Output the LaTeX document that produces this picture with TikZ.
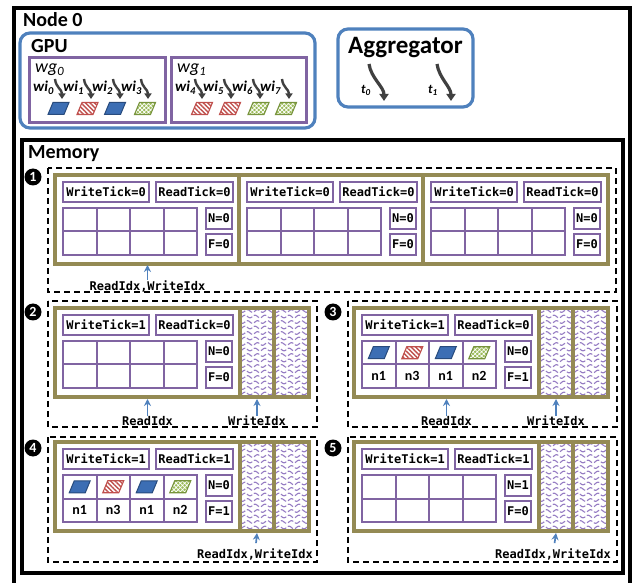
\documentclass[tikz,border=0pt]{standalone}
\usepackage{fontspec}
\setmainfont{Carlito}
\setmonofont{DejaVu Sans Mono}
\usetikzlibrary{arrows.meta,patterns.meta}
\definecolor{nblue}{RGB}{79,129,189}
\definecolor{npurple}{RGB}{128,100,162}
\definecolor{nolive}{RGB}{148,138,84}
\definecolor{ngrey}{RGB}{64,64,64}
\definecolor{pblue}{RGB}{60,110,180}
\definecolor{pblueb}{RGB}{40,75,125}
\definecolor{pred}{RGB}{192,80,77}
\definecolor{pgreen}{RGB}{155,187,89}
\definecolor{pgreenb}{RGB}{119,147,60}
\definecolor{wavecol}{RGB}{150,125,195}
\tikzset{
 titletext/.style={font=\bfseries\fontsize{20}{24}\selectfont, inner sep=0pt, anchor=base west},
 bluebox/.style={draw=nblue, line width=3.2pt, rounded corners=10pt},
 wgbox/.style={draw=npurple, line width=3pt},
 wglabel/.style={font=\itshape\fontsize{18}{20}\selectfont, inner sep=0pt, anchor=base west},
 wilabel/.style={font=\bfseries\itshape\fontsize{15}{18}\selectfont, inner sep=0pt, anchor=base west},
 tlabel/.style={font=\bfseries\itshape\fontsize{13}{15}\selectfont, inner sep=0pt, anchor=base},
 wgarrow/.style={draw=ngrey, line width=2.4pt, -{Triangle[length=5.5pt,width=7pt]}},
 aggarrow/.style={draw=ngrey, line width=3.2pt, -{Triangle[length=7pt,width=9pt]}},
 stepbox/.style={draw=black, line width=2pt, dash pattern=on 6pt off 4pt},
 slotbox/.style={draw=nolive, line width=3.2pt},
 tickbox/.style={draw=npurple, line width=2pt, font=\ttfamily\bfseries\fontsize{12}{14}\selectfont, inner sep=0pt, minimum height=20pt},
 cellline/.style={draw=npurple, line width=2pt},
 idxlabel/.style={font=\ttfamily\bfseries\fontsize{12}{14}\selectfont, inner sep=0pt},
 idxarrow/.style={draw=nblue, line width=1.7pt, -{Stealth[length=7pt,width=7pt]}},
 bullet/.style={circle, fill=black, inner sep=0pt, minimum size=17pt, text=white, font=\bfseries\fontsize{14}{16}\selectfont},
 nlabel/.style={font=\bfseries\fontsize{14}{16}\selectfont, inner sep=0pt},
 parablue/.style={fill=pblue, draw=pblueb, line width=1pt},
 parared/.style={draw=pred, line width=1.1pt, preaction={fill=white}, pattern={Lines[angle=-45,distance=3.2pt,line width=1.4pt]}, pattern color=pred},
 paragreen/.style={draw=pgreenb, line width=1.1pt, preaction={fill=pgreen}, pattern={Hatch[angle=45,distance=3pt,line width=0.7pt]}, pattern color=white},
 waveline/.style={draw=wavecol, line width=1.1pt, dash pattern=on 6pt off 2pt},
}
% parallelogram centred at (#2,#3)
\newcommand\para[3]{\draw[#1] ({#2-10.5},{#3+6}) -- ({#2+5.5},{#3+6}) -- ({#2+10.5},{#3-6}) -- ({#2-5.5},{#3-6}) -- cycle;}
% queue slot: name, x, y, writetick, readtick, N, F
\newcommand\qslot[7]{%
 \draw[slotbox, fill=white] (#2,#3) rectangle ++(185,89);
 \node[tickbox, minimum width=86pt] (#1wt) at ({#2+51},{#3+17}) {WriteTick=#4};
 \node[tickbox, minimum width=77pt] (#1rt) at ({#2+139.5},{#3+17}) {ReadTick=#5};
 \foreach \c in {0,1,2,3}{%
  \draw[cellline] ({#2+8+33.5*\c},{#3+33}) rectangle ++(33.5,23.5);
  \draw[cellline] ({#2+8+33.5*\c},{#3+56.5}) rectangle ++(33.5,23.5);}
 \node[tickbox, minimum width=26pt, minimum height=21pt] (#1n) at ({#2+164},{#3+43.5}) {N=#6};
 \node[tickbox, minimum width=26pt, minimum height=21pt] (#1f) at ({#2+164},{#3+69.5}) {F=#7};
}
% filled grid: name, slot x, slot y
\newcommand\gridfill[3]{%
 \para{parablue}{#2+24.75}{#3+44.75}
 \para{parared}{#2+58.25}{#3+44.75}
 \para{parablue}{#2+91.75}{#3+44.75}
 \para{paragreen}{#2+125.25}{#3+44.75}
 \node[nlabel] (#1c0) at ({#2+24.75},{#3+68.25}) {n1};
 \node[nlabel] (#1c1) at ({#2+58.25},{#3+68.25}) {n3};
 \node[nlabel] (#1c2) at ({#2+91.75},{#3+68.25}) {n1};
 \node[nlabel] (#1c3) at ({#2+125.25},{#3+68.25}) {n2};
}
% narrow wave slot: x1, y1, x2, y2
\newcommand\waveslot[4]{%
 \begin{scope}
 \clip (#1,#2) rectangle (#3,#4);
 \foreach \k in {0,...,16}{%
  \draw[waveline] plot[domain=0:{#3-#1}, samples=50, smooth] ({#1+\x},{#2+3+5.5*\k+1.3*sin(36*\x+90*mod(\k,2))});}
 \end{scope}
 \draw[slotbox] (#1,#2) rectangle (#3,#4);
}
\begin{document}
\begin{tikzpicture}[x=1pt,y=-1pt]
\useasboundingbox (0,0) rectangle (633,583);
% Node 0
\draw[line width=3.5pt] (14,8) rectangle (630,600);
\node[titletext] (node0) at (23,27) {Node 0};
% GPU
\draw[bluebox] (20,33) rectangle (315,128);
\node[titletext] (gpu) at (31,53) {GPU};
\draw[wgbox] (29,58) rectangle (165,123);
\draw[wgbox] (171,58) rectangle (306,123);
\node[wglabel] (wg0) at (35,73) {wg\textsubscript{0}};
\node[wglabel] (wg1) at (177,73) {wg\textsubscript{1}};
\foreach \k/\lx/\ax in {0/33/55,1/63/84,2/92/113,3/121/141,4/175/195,5/203/224,6/232/253,7/260/282}{%
 \node[wilabel] (wi\k) at (\lx,92) {wi\textsubscript{\k}};
 \coordinate (wa\k s) at (\ax,79);
 \coordinate (wa\k e) at (\ax+7,99);
 \draw[wgarrow] (wa\k s) .. controls +(1,9) and +(0,-10) .. (wa\k e);
}
\para{parablue}{58.5}{108.5}
\para{parared}{87.5}{108.5}
\para{parablue}{115}{108.5}
\para{paragreen}{145}{108.5}
\para{parared}{202}{108.5}
\para{parared}{230}{108.5}
\para{paragreen}{258.5}{108.5}
\para{paragreen}{286}{108.5}
% Aggregator
\draw[bluebox] (338,29) rectangle (473,107);
\node[titletext, font=\bfseries\fontsize{25}{28}\selectfont, anchor=base] (agg) at (405.5,54) {Aggregator};
\coordinate (t0s) at (369,64);
\coordinate (t0e) at (384,101);
\coordinate (t1s) at (437,64);
\coordinate (t1e) at (451,101);
\draw[aggarrow] (t0s) .. controls +(2,14) and +(0,-14) .. (t0e);
\draw[aggarrow] (t1s) .. controls +(2,14) and +(0,-14) .. (t1e);
\node[tlabel] (t0) at (366,94) {t\textsubscript{0}};
\node[tlabel] (t1) at (433,94) {t\textsubscript{1}};
% Memory
\draw[line width=3.5pt] (22,140) rectangle (623,573);
\node[titletext] (mem) at (28,159) {Memory};
% step boxes
\draw[stepbox] (48,168) rectangle (616,292);
\draw[stepbox] (48,301) rectangle (317,427);
\draw[stepbox] (348,301) rectangle (617,427);
\draw[stepbox] (48,437) rectangle (317,562);
\draw[stepbox] (348,437) rectangle (617,562);
\node[bullet] (b1) at (33,177) {1};
\node[bullet] (b2) at (33,312) {2};
\node[bullet] (b3) at (333,312) {3};
\node[bullet] (b4) at (33,448) {4};
\node[bullet] (b5) at (333,448) {5};
% step 1
\qslot{sa}{55}{175}{0}{0}{0}{0}
\qslot{sb}{239}{175}{0}{0}{0}{0}
\qslot{sc}{423}{175}{0}{0}{0}{0}
\coordinate (s1p) at (147.5,265);
\node[idxlabel] (l1) at (147.5,286) {ReadIdx,WriteIdx};
\draw[idxarrow] (l1) -- (s1p);
% step 2
\qslot{tb}{55}{308}{1}{0}{0}{0}
\waveslot{240}{308}{274}{397}
\waveslot{274}{308}{309}{397}
\coordinate (s2r) at (147.5,399);
\coordinate (s2w) at (257,399);
\node[idxlabel] (l2r) at (147.5,421) {ReadIdx};
\node[idxlabel] (l2w) at (257,421) {WriteIdx};
\draw[idxarrow] (l2r) -- (s2r);
\draw[idxarrow] (l2w) -- (s2w);
% step 3
\qslot{tc}{354}{308}{1}{0}{0}{1}
\gridfill{gc}{354}{308}
\waveslot{539}{308}{573}{397}
\waveslot{573}{308}{608}{397}
\coordinate (s3r) at (446.5,399);
\coordinate (s3w) at (556,399);
\node[idxlabel] (l3r) at (446.5,421) {ReadIdx};
\node[idxlabel] (l3w) at (556,421) {WriteIdx};
\draw[idxarrow] (l3r) -- (s3r);
\draw[idxarrow] (l3w) -- (s3w);
% step 4
\qslot{td}{55}{442}{1}{1}{0}{1}
\gridfill{gd}{55}{442}
\waveslot{240}{442}{274}{531}
\waveslot{274}{442}{309}{531}
\coordinate (s4p) at (257,533);
\node[idxlabel] (l4) at (255,554) {ReadIdx,WriteIdx};
\draw[idxarrow, shorten <=5pt] (l4) -- (s4p);
% step 5
\qslot{te}{354}{442}{1}{1}{1}{0}
\waveslot{539}{442}{573}{531}
\waveslot{573}{442}{608}{531}
\coordinate (s5p) at (556,533);
\node[idxlabel] (l5) at (553,554) {ReadIdx,WriteIdx};
\draw[idxarrow, shorten <=5pt] (l5) -- (s5p);
\end{tikzpicture}
\end{document}
